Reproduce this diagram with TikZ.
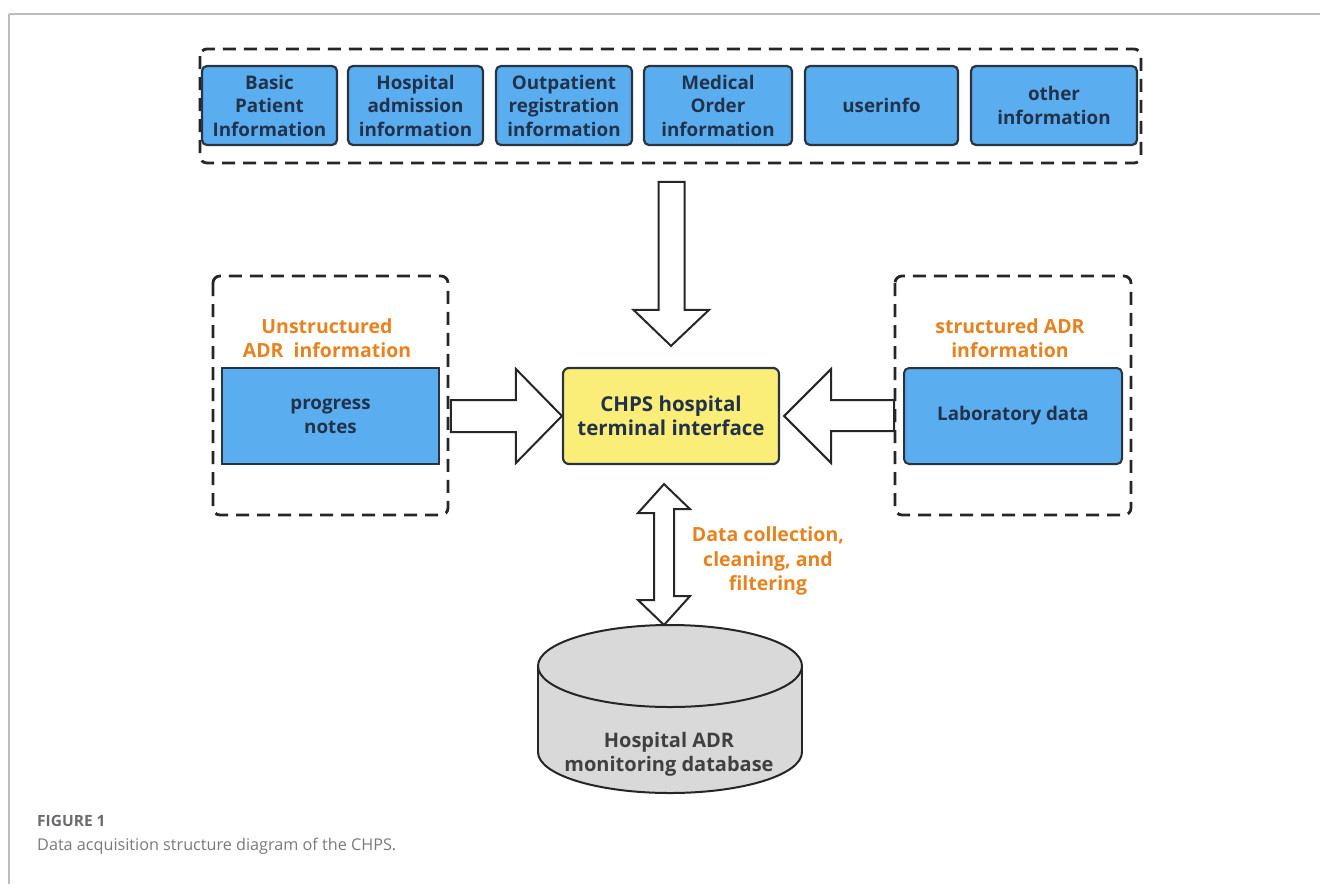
\documentclass[tikz,border=0pt]{standalone}
\usepackage{fontspec}
\setmainfont{Open Sans}
\usetikzlibrary{calc}
\definecolor{boxblue}{HTML}{5AAEF0}
\definecolor{boxline}{HTML}{2A3440}
\definecolor{boxtext}{HTML}{22324A}
\definecolor{chpsyellow}{HTML}{FAEE78}
\definecolor{orangetxt}{HTML}{E8821E}
\definecolor{dbgray}{HTML}{D9D9D9}
\definecolor{framegray}{HTML}{BDBDBD}
\definecolor{capgray}{HTML}{6A6B6E}
\tikzset{
  topbox/.style={draw=boxline, line width=2.2pt, fill=boxblue, rounded corners=5pt,
    minimum height=79pt, inner sep=0pt, align=center, text=boxtext,
    font=\fontsize{18.8}{23.5}\selectfont\bfseries},
  sidebox/.style={draw=boxline, line width=2pt, fill=boxblue,
    minimum width=217pt, minimum height=96pt, inner sep=0pt, align=center, text=boxtext,
    font=\fontsize{18.8}{24}\selectfont\bfseries},
  groupbox/.style={draw=black!85, line width=2.8pt, dash pattern=on 13pt off 8pt, rounded corners=7pt},
  orangelabel/.style={text=orangetxt, align=center, inner sep=0pt,
    font=\fontsize{19.5}{24.5}\selectfont\bfseries},
  blockarrow/.style={draw=black!85, line width=2pt, fill=white, line join=miter},
}
\begin{document}
\begin{tikzpicture}[x=1pt,y=-1pt]
\useasboundingbox (0,0) rectangle (1320,884);
% frame lines
\draw[framegray, line width=1.6pt] (9,14) -- (1320,14);
\draw[framegray, line width=1.3pt] (9,14) -- (9,884);

% top group
\draw[groupbox] (200,49) rectangle (1141,163);
\node[topbox, minimum width=135pt] (b1) at (269.5,105.5) {Basic\\Patient\\Information};
\node[topbox, minimum width=135pt] (b2) at (415.5,105.5) {Hospital\\admission\\information};
\node[topbox, minimum width=136pt] (b3) at (564,105.5) {Outpatient\\registration\\information};
\node[topbox, minimum width=148pt] (b4) at (718,105.5) {Medical\\Order\\information};
\node[topbox, minimum width=153pt] (b5) at (881.5,105.5) {userinfo};
\node[topbox, minimum width=166pt] (b6) at (1054,105.5) {other\\information};

% left group
\draw[groupbox] (213,276) rectangle (448,515);
\node[orangelabel] (ul) at (327,338) {Unstructured\\ADR\ \ information};
\node[sidebox] (pn) at (330.5,416) {progress\\notes};

% right group
\draw[groupbox] (895,276) rectangle (1131,515);
\node[orangelabel] (sl) at (1010,338) {structured ADR\\information};
\node[sidebox, rounded corners=5pt, minimum width=218pt] (lab) at (1013,416) {Laboratory data};

% center
\node[draw=boxline, line width=2.2pt, fill=chpsyellow, rounded corners=6pt,
  minimum width=216pt, minimum height=96pt, inner sep=0pt, align=center, text=boxtext,
  font=\fontsize{20.5}{24.5}\selectfont\bfseries] (chps) at (671,416) {CHPS hospital\\terminal interface};

% down arrow from top group
\coordinate (dtip) at ($(chps.north)+(0,-21)$);
\draw[blockarrow] (dtip) -- ++(-37.5,-36) -- ++(25,0) -- ++(0,-128) -- ++(26,0) -- ++(0,128) -- ++(24.5,0) -- cycle;

% left arrow into chps
\coordinate (ltip) at (chps.west);
\draw[blockarrow] (ltip) -- ++(-46,-47) -- ++(0,31) -- ++(-65,0) -- ++(0,32) -- ++(65,0) -- ++(0,31) -- cycle;

% right arrow into chps
\coordinate (rtip) at ($(chps.east)+(4,0)$);
\draw[blockarrow] (rtip) -- ++(47,-47) -- ++(0,31) -- ++(63,0) -- ++(0,31) -- ++(-63,0) -- ++(0,32) -- cycle;

% database
\fill[dbgray, draw=black!85, line width=2pt] (670,752) ellipse [x radius=132, y radius=41];
\fill[dbgray] (538,666) rectangle (802,752);
\draw[black!85, line width=2pt] (538,666) -- (538,752) (802,666) -- (802,752);
\fill[dbgray, draw=black!85, line width=2pt] (670,666) ellipse [x radius=132, y radius=41];
\node[inner sep=0pt, align=center, text=black!75, font=\fontsize{20}{24}\selectfont\bfseries] (db) at (669,754) {Hospital ADR\\monitoring database};
\coordinate (dbtop) at (664,625);

% double arrow
\coordinate (ttip) at ($(chps.south)+(-7,19)$);
\draw[blockarrow] (ttip) -- ++(26,25) -- ++(-16,0) -- ++(0,87) -- ++(16,0) -- (dbtop) -- ++(-26,-25) -- ++(16,0) -- ++(0,-87) -- ++(-16,0) -- cycle;

\node[orangelabel] (dcl) at (768,561) {Data collection,\\cleaning, and\\filtering};

% caption
\node[anchor=base west, inner sep=0pt, text=capgray, font=\fontsize{15.5}{18}\selectfont\bfseries] (fig) at (37,826) {FIGURE 1};
\node[anchor=base west, inner sep=0pt, text=capgray!90, font=\fontsize{16.2}{18}\selectfont] (cap) at (37,850) {Data acquisition structure diagram of the CHPS.};
\end{tikzpicture}
\end{document}
